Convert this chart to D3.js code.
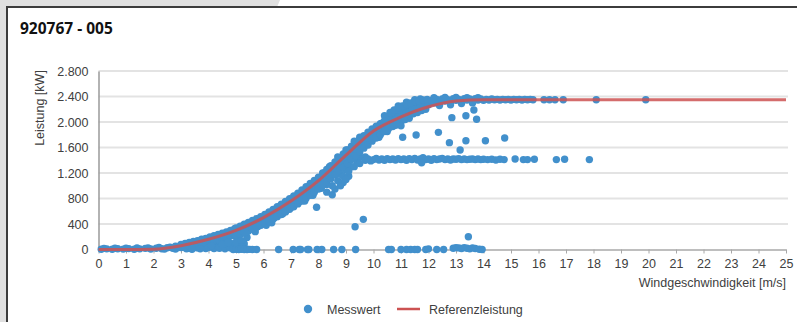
<!DOCTYPE html>
<html><head><meta charset="utf-8">
<script src="https://cdn.jsdelivr.net/npm/d3@7"></script>
<style>
html,body{margin:0;padding:0;background:#fff;}
svg{display:block;}
text{font-family:"Liberation Sans",Arial,sans-serif;fill:#404040;}
</style></head>
<body>
<svg id="c" width="797" height="322"></svg>
<script>
const title = "920767 - 005";
const xTicks = d3.range(0, 26);
const yTicks = [0, 400, 800, 1200, 1600, 2000, 2400, 2800];
const xLabel = "Windgeschwindigkeit [m/s]";
const yLabel = "Leistung [kW]";
const seriesNames = ["Messwert", "Referenzleistung"];

// Referenzleistung (kW) at wind speeds (m/s)
const refSpeed = [0,1,2,3,4,5,6,7,8,9,10,11,12,13,14,15,16,17,18,19,20,21,22,23,24,25];
const refPower = [0,0,5,60,160,300,500,760,1080,1480,1860,2080,2240,2330,2350,2350,2350,2350,2350,2350,2350,2350,2350,2350,2350,2350];

// Messwert [wind speed, kW]
const bandPoints = [
[0.1,5],[0.3,10],[0.5,3],[0.7,12],[0.9,6],[1.1,14],[1.3,4],[1.5,10],[1.7,18],[1.9,8],[2.1,20],[2.3,12],[2.5,28],[0.2,18],[0.6,20],[1.0,22],[1.4,24],[1.8,26],[2.2,34],[2.4,6],
[2.6,35],[2.7,18],[2.8,50],[2.9,30],[3.0,62],[3.1,40],[3.2,75],[3.3,20],[3.4,88],[3.5,55],[3.6,100],[3.7,70],[3.8,120],[3.9,45],[4.0,140],[4.0,95],[2.8,8],[3.2,10],[3.6,25],[3.9,15],
[4.1,165],[4.2,120],[4.3,180],[4.4,70],[4.5,200],[4.5,140],[4.6,225],[4.7,165],[4.8,245],[4.8,100],[4.9,270],[5.0,210],[5.0,300],[5.1,150],[5.2,320],[5.2,250],[5.3,345],[5.4,280],[5.4,190],[5.5,370],[4.3,30],[4.6,50],[4.9,40],[5.1,60],[5.3,90],
[5.6,400],[5.6,320],[5.7,420],[5.8,360],[5.9,450],[5.9,390],[6.0,480],[6.0,420],[6.1,505],[6.2,450],[6.2,530],[6.3,480],[6.4,560],[6.4,500],[6.5,590],[6.5,530],[6.6,620],[6.6,560],[6.7,650],[6.8,600],[6.8,680],[6.9,640],[7.0,720],[7.0,660],[5.7,280],[6.1,380],[6.3,420],[6.7,560],
[7.1,750],[7.1,690],[7.2,780],[7.2,720],[7.3,810],[7.3,750],[7.4,840],[7.4,780],[7.5,880],[7.5,810],[7.6,910],[7.6,850],[7.7,940],[7.7,880],[7.8,980],[7.8,910],[7.9,1020],[7.9,950],[8.0,1060],[8.0,990],[8.1,1100],[8.1,1020],[8.2,1140],[8.2,1060],[8.3,1180],[8.3,1100],[8.4,1220],[8.4,1140],[8.5,1260],[8.5,1180],[7.5,760],[7.8,850],[8.1,960],[8.3,1020],[8.4,1300],[8.2,1200],[8.3,900],[8.5,860],[8.6,950],
[8.6,1300],[8.6,1220],[8.7,1340],[8.7,1260],[8.8,1380],[8.8,1300],[8.9,1420],[8.9,1340],[9.0,1460],[9.0,1380],[9.1,1500],[9.1,1420],[9.2,1540],[9.2,1460],[9.3,1580],[9.3,1500],[9.4,1620],[9.4,1540],[9.5,1660],[9.5,1580],[9.6,1700],[9.6,1620],[9.7,1740],[9.7,1660],[9.8,1780],[9.8,1700],[9.9,1820],[9.9,1740],[10.0,1860],[10.0,1780],[8.8,1180],[9.0,1250],[9.2,1300],[9.4,1380],[9.5,1450],[9.7,1450],[9.3,1700],[9.5,1760],[9.0,1560],[8.7,1450],[8.9,1050],[9.1,1150],
[10.1,1900],[10.1,1820],[10.2,1940],[10.2,1860],[10.3,1980],[10.3,1900],[10.4,2010],[10.4,1930],[10.5,2040],[10.5,1960],[10.6,2070],[10.6,1990],[10.7,2100],[10.7,2020],[10.8,2130],[10.8,2040],[10.9,2150],[10.9,2070],[11.0,2180],[11.0,2090],[11.1,2200],[11.1,2110],[11.2,2220],[11.2,2140],[11.3,2240],[11.3,2160],[11.4,2250],[11.4,2180],[11.5,2270],[11.5,2200],[11.6,2280],[11.6,2210],[11.7,2300],[11.7,2230],[11.8,2310],[11.8,2250],[11.9,2320],[11.9,2260],[12.0,2330],[12.0,2270],[10.2,1760],[10.5,1850],[10.8,1950],[11.0,2000],[11.3,2060],[10.4,2100],[10.9,2250],[11.2,2310],[11.5,2350],[11.7,2360]
];
const bandUpper = [
[3.0,80],[3.15,95],[3.3,110],[3.45,125],[3.6,140],[3.75,160],[3.9,175],[4.05,195],[4.2,215],[4.35,235],[4.5,255],[4.65,275],[4.8,300],[4.95,325],
[5.0,340],[5.15,365],[5.3,395],[5.45,425],[5.6,455],[5.75,485],[5.9,515],[6.05,550],[6.2,590],[6.35,630],[6.5,670],[6.65,710],[6.8,755],[6.95,795],[7.1,840],[7.25,885],[7.4,935],[7.55,985],[7.7,1035],[7.85,1085],[8.0,1135],[8.15,1200],[8.3,1255],[8.45,1315],[8.6,1375],[8.75,1435],[8.9,1500],[9.05,1560],[9.2,1620],[9.35,1675],[9.5,1730],[9.65,1785],[9.8,1840],[9.95,1890],[10.1,1935],[10.25,1975],[10.4,2015],
[10.6,2150],[10.75,2190],[10.9,2220],[11.05,2250],[11.2,2280],[11.35,2300],[11.5,2320],[11.65,2330],[11.8,2345],[11.95,2355]
];
const bandLower = [
[3.0,30],[3.15,45],[3.3,55],[3.45,70],[3.6,80],[3.75,95],[3.9,110],[4.05,120],[4.2,140],[4.35,155],[4.5,170],[4.65,190],[4.8,210],[4.95,230],
[5.0,210],[5.15,235],[5.3,265],[5.45,290],[5.6,320],[5.75,350],[5.9,380],[6.05,410],[6.2,445],[6.35,480],[6.5,515],[6.65,550],[6.8,590],[6.95,630],[7.1,670],[7.25,715],[7.4,760],[7.55,805],[7.7,850],[7.85,900],[8.0,950],[8.15,1010],[8.3,1060],[8.45,1110],[8.6,1170],[8.75,1230],[8.9,1290],[9.05,1350],[9.2,1410],[9.35,1470],[9.5,1530],[9.65,1590],[9.8,1640],[9.95,1700],[10.1,1750],[10.25,1800],[10.4,1850],
[8.5,1000],[8.7,1080],[8.9,1150],[9.1,1230],[9.3,1300],[9.5,1350],[8.8,1000],[9.0,1100],
[3.4,5],[3.7,10],[4.0,30],[4.2,15],[4.4,20],[4.6,10],[4.8,25],[4.1,60],[4.5,80],[4.7,110],[5.0,120],[5.2,140],[5.4,5],[5.2,40],
[10.55,1900],[10.7,1930],[10.85,1960],[11.0,1940],[11.15,2040],[11.3,2100],[11.45,2130],[11.6,2150],[11.75,2180],[11.9,2200]
];
const plateauPoints = [
[12.1,2340],[12.2,2300],[12.3,2355],[12.4,2320],[12.5,2360],[12.6,2330],[12.7,2350],[12.8,2310],[12.9,2365],[13.0,2340],[13.1,2355],[13.2,2325],[13.3,2365],[13.4,2345],[13.5,2360],[13.6,2335],[13.7,2365],[13.8,2345],[13.9,2360],[14.0,2340],[14.1,2355],[14.2,2345],[14.3,2360],[14.4,2350],[14.5,2355],[14.6,2345],[14.7,2355],[14.8,2350],[14.9,2355],[15.0,2345],[15.1,2355],[15.2,2350],[15.3,2355],[15.4,2345],[15.5,2355],[15.6,2350],[15.7,2355],[15.8,2350],
[12.2,2380],[12.6,2385],[13.0,2385],[13.4,2380],[13.8,2380],[12.4,2260],[12.8,2270],[13.2,2290],[13.6,2300],
[16.2,2350],[16.4,2350],[16.6,2350],[16.9,2350],[18.1,2350],[19.9,2350]
];
const curtailedPoints = [
[9.7,1400],[9.8,1420],[9.9,1390],[10.0,1410],[10.1,1430],[10.2,1405],[10.3,1420],[10.4,1400],[10.5,1425],[10.6,1410],[10.7,1420],[10.8,1405],[10.9,1425],[11.0,1410],[11.1,1420],[11.2,1400],[11.3,1425],[11.4,1410],[11.5,1430],[11.6,1405],[11.7,1420],[11.8,1440],[11.9,1410],[12.0,1420],[12.1,1400],[12.2,1425],[12.3,1410],[12.4,1420],[12.5,1430],[12.6,1410],[12.7,1420],[12.8,1405],[12.9,1420],[13.0,1415],[13.1,1425],[13.2,1410],[13.3,1420],[13.4,1410],[13.5,1415],[13.6,1420],[13.7,1410],[13.8,1420],[13.9,1410],[14.0,1415],[14.15,1410],[14.3,1415],[14.45,1405],[14.6,1415],[14.75,1410],[15.15,1420],[15.45,1410],[15.6,1410],[15.85,1415],[16.65,1410],[16.95,1415],[17.85,1410],[11.75,1360]
];
const scatteredPoints = [
[11.06,1760],[11.55,1796],[12.36,1838],[12.76,1676],[13.15,1561],[13.36,1707],[14.07,1707],[14.77,1749],[12.85,2068],[13.36,2099],[13.75,2042],[13.65,2188],
[13.45,200],[9.33,358],[9.63,473],[7.93,662]
];
const zeroPoints = [
[4.9,0],[5.0,5],[5.1,0],[5.2,3],[5.3,0],[5.4,0],[5.5,2],[5.6,0],[5.75,0],[6.55,0],[7.08,0],[7.3,0],[7.35,0],[7.6,0],[7.65,0],[7.95,0],[8.12,0],[8.55,0],[8.85,0],[9.35,0],[10.55,0],[10.65,0],[11.0,0],[11.2,0],[11.35,0],[11.5,0],[11.6,0],[11.9,0],[12.0,10],[12.3,0],[12.55,0],[12.9,20],[13.0,30],[13.1,25],[13.2,15],[13.3,30],[13.4,20],[13.5,10],[13.6,25],[13.7,15],[13.85,5],[13.95,0]
];

const blue = "#4290cc", red = "#cc5252";
const svg = d3.select("#c");

// frame / background
svg.append("rect").attr("x",0).attr("y",0).attr("width",7).attr("height",322).attr("fill","#e0e0e0");
svg.append("polygon").attr("points","0,0 280,0 277,7 0,7").attr("fill","#e0e0e0");
svg.append("rect").attr("x",6).attr("y",6).attr("width",2).attr("height",316).attr("fill","#3c3c3c");
svg.append("rect").attr("x",6).attr("y",6).attr("width",791).attr("height",2).attr("fill","#3c3c3c");

svg.append("text").attr("x",20).attr("y",34).text(title)
  .style("font-family","'Open Sans',sans-serif").style("font-weight","bold").style("font-size","15.5px").style("fill","#111");

const x = d3.scaleLinear().domain([0,25]).range([98.5,786]);
const y = d3.scaleLinear().domain([0,2800]).range([249.5,71]);

// gridlines
svg.append("g").selectAll("line").data(yTicks.filter(d=>d>0)).join("line")
  .attr("x1",x(0)).attr("x2",788).attr("y1",d=>y(d)).attr("y2",d=>y(d))
  .attr("stroke","#e3e3e3").attr("stroke-width",2);

// y axis
const yAxis = d3.axisLeft(y).tickValues(yTicks).tickSize(0).tickPadding(10)
  .tickFormat(d => d3.format(",")(d).replace(/,/g,"."));
const gy = svg.append("g").attr("transform",`translate(${x(0)},0)`).call(yAxis);
gy.select(".domain").attr("stroke","#9a9a9a").attr("stroke-width",1.5);
gy.selectAll("text").style("font-size","12.5px").style("fill","#404040").attr("dy","0.35em");

// x axis
const xAxis = d3.axisBottom(x).tickValues(xTicks).tickSize(4).tickPadding(6).tickSizeOuter(0);
const gx = svg.append("g").attr("transform",`translate(0,${y(0)})`).call(xAxis);
gx.select(".domain").attr("stroke","#a8a8a8").attr("stroke-width",1.5);
gx.selectAll(".tick line").attr("stroke","#a8a8a8");
gx.selectAll("text").style("font-size","12.5px").style("fill","#404040");

svg.append("text").attr("x",786).attr("y",287).attr("text-anchor","end").text(xLabel).style("font-size","12.5px");
svg.append("text").attr("transform","translate(44,108) rotate(-90)").attr("text-anchor","middle").text(yLabel).style("font-size","12.5px");

// scatter
const pts = [].concat(bandPoints, bandUpper, bandLower, plateauPoints, curtailedPoints, scatteredPoints, zeroPoints);
svg.append("g").selectAll("circle").data(pts).join("circle")
  .attr("cx",d=>x(d[0])).attr("cy",d=>y(d[1])).attr("r",3.7).attr("fill",blue);

// reference line
const ref = refSpeed.map((s,i)=>[s,refPower[i]]);
svg.append("path").datum(ref)
  .attr("d", d3.line().x(d=>x(d[0])).y(d=>y(d[1])).curve(d3.curveMonotoneX))
  .attr("fill","none").attr("stroke",red).attr("stroke-width",3).attr("stroke-opacity",0.85);

// legend
const lg = svg.append("g");
lg.append("circle").attr("cx",308).attr("cy",309).attr("r",4.2).attr("fill",blue);
lg.append("text").attr("x",327).attr("y",313.5).text(seriesNames[0]).style("font-size","12.5px");
lg.append("line").attr("x1",397).attr("x2",420).attr("y1",309).attr("y2",309).attr("stroke",red).attr("stroke-width",2.5);
lg.append("text").attr("x",429).attr("y",313.5).text(seriesNames[1]).style("font-size","12.5px");
</script>
</body></html>
